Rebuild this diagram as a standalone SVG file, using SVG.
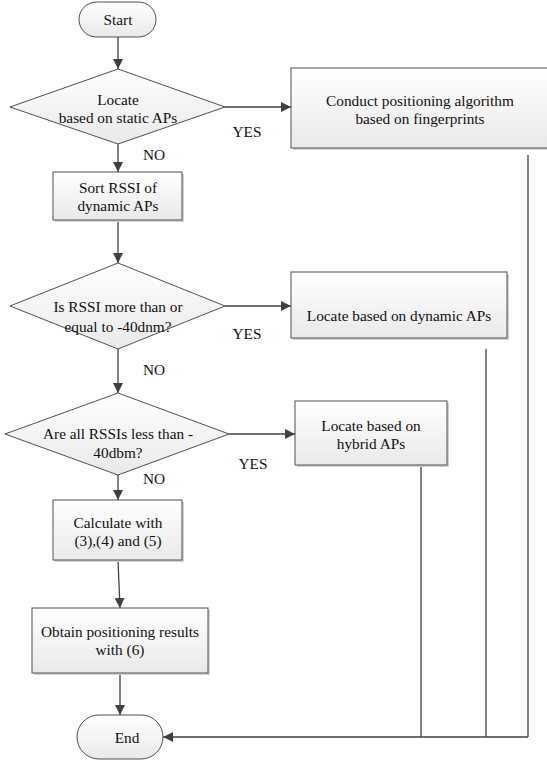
<svg xmlns="http://www.w3.org/2000/svg" width="547" height="761" viewBox="0 0 547 761">
<defs>
<linearGradient id="g" x1="0" y1="0" x2="0" y2="1">
<stop offset="0" stop-color="#ffffff"/>
<stop offset="1" stop-color="#e9e9e9"/>
</linearGradient>
<marker id="ah" viewBox="0 0 10 10" refX="10" refY="5" markerWidth="10" markerHeight="10" markerUnits="userSpaceOnUse" orient="auto">
<path d="M0,0 L10,5 L0,10 z" fill="#404040"/>
</marker>
</defs>
<style>
.n{fill:url(#g);stroke:#505050;stroke-width:1}
.sh{fill:#d2d2d2;stroke:none}
text{font-family:'Liberation Serif','Times New Roman','DejaVu Serif',serif;font-size:15.3px;fill:#111;text-anchor:middle;dominant-baseline:central}
.c{fill:none;stroke:#404040;stroke-width:1.3}
.ca{fill:none;stroke:#404040;stroke-width:1.3;marker-end:url(#ah)}
</style>
<g id="connectors">
<line class="ca" x1="118" y1="37" x2="118" y2="69"/>
<line class="ca" x1="225" y1="107" x2="291" y2="107"/>
<line class="ca" x1="118" y1="144" x2="118" y2="172"/>
<line class="ca" x1="118" y1="220" x2="118" y2="263"/>
<line class="ca" x1="225" y1="306" x2="291" y2="306"/>
<line class="ca" x1="118" y1="349" x2="118" y2="393"/>
<line class="ca" x1="229" y1="434" x2="295" y2="434"/>
<line class="ca" x1="118" y1="475" x2="118" y2="500"/>
<line class="ca" x1="118" y1="560" x2="120" y2="608"/>
<line class="ca" x1="120" y1="673" x2="120" y2="715"/>
<line class="c" x1="528" y1="155" x2="528" y2="737"/>
<line class="c" x1="486" y1="349" x2="486" y2="737"/>
<line class="c" x1="421" y1="465" x2="421" y2="737"/>
<line class="ca" x1="528" y1="737" x2="163" y2="737"/>
</g>
<g id="start">
<rect class="n" x="79" y="2" width="77" height="35" rx="17.5"/>
<text x="118" y="19.5">Start</text>
</g>
<g id="d1">
<polygon class="n" points="118,69 225,107 118,144 10,107"/>
<text x="118" y="99">Locate</text>
<text x="118" y="117">based on static APs</text>
</g>
<g id="b1">
<rect class="sh" x="293" y="70" width="254" height="80"/>
<rect class="n" x="291" y="68" width="260" height="80"/>
<text x="420" y="100">Conduct positioning algorithm</text>
<text x="420" y="118">based on fingerprints</text>
</g>
<g id="b2">
<rect class="sh" x="55" y="174" width="129" height="48"/>
<rect class="n" x="53" y="172" width="129" height="48"/>
<text x="118" y="187">Sort RSSI of</text>
<text x="118" y="205">dynamic APs</text>
</g>
<g id="d2">
<polygon class="n" points="118,263 225,306 118,349 10,306"/>
<text x="118" y="306">Is RSSI more than or</text>
<text x="118" y="326">equal to -40dnm?</text>
</g>
<g id="b3">
<rect class="sh" x="293" y="274" width="216" height="66"/>
<rect class="n" x="291" y="272" width="216" height="66"/>
<text x="399" y="315">Locate based on dynamic APs</text>
</g>
<g id="d3">
<polygon class="n" points="118,393 229,434 118,475 5,434"/>
<text x="118" y="433">Are all RSSIs less than -</text>
<text x="118" y="452">40dbm?</text>
</g>
<g id="b4">
<rect class="sh" x="297" y="403" width="152" height="64"/>
<rect class="n" x="295" y="401" width="152" height="64"/>
<text x="371" y="425">Locate based on</text>
<text x="371" y="443">hybrid APs</text>
</g>
<g id="b5">
<rect class="sh" x="55" y="502" width="129" height="60"/>
<rect class="n" x="53" y="500" width="129" height="60"/>
<text x="118" y="522">Calculate with</text>
<text x="118" y="540">(3),(4) and (5)</text>
</g>
<g id="b6">
<rect class="sh" x="34" y="610" width="176" height="65"/>
<rect class="n" x="32" y="608" width="176" height="65"/>
<text x="120" y="631">Obtain positioning results</text>
<text x="120" y="649">with (6)</text>
</g>
<g id="end">
<rect class="n" x="77" y="715" width="86" height="44" rx="22"/>
<text x="127" y="737">End</text>
</g>
<g id="labels">
<text x="247" y="131">YES</text>
<text x="154" y="154">NO</text>
<text x="247" y="333">YES</text>
<text x="154" y="369">NO</text>
<text x="253" y="463">YES</text>
<text x="154" y="478">NO</text>
</g>
</svg>
